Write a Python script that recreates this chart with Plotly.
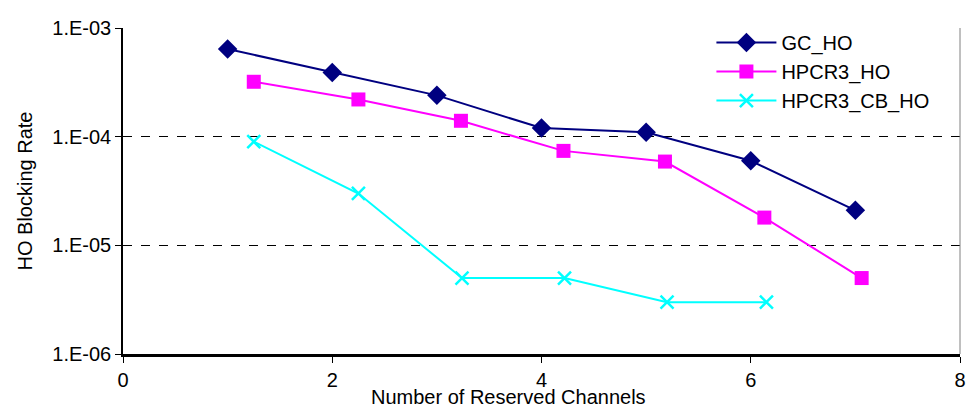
import plotly.graph_objects as go

# data
gc_x = [1, 2, 3, 4, 5, 6, 7]
gc_y = [6.4e-4, 3.9e-4, 2.4e-4, 1.2e-4, 1.1e-4, 6.0e-5, 2.1e-5]

hpcr3_x = [1.25, 2.25, 3.23, 4.21, 5.18, 6.13, 7.06]
hpcr3_y = [3.2e-4, 2.2e-4, 1.4e-4, 7.4e-5, 5.9e-5, 1.8e-5, 5.0e-6]

cb_x = [1.25, 2.25, 3.24, 4.22, 5.2, 6.15]
cb_y = [9.0e-5, 3.0e-5, 5.0e-6, 5.0e-6, 3.0e-6, 3.0e-6]

y_ticks = [1e-6, 1e-5, 1e-4, 1e-3]
y_labels = ['1.E-06', '1.E-05', '1.E-04', '1.E-03']
x_ticks = [0, 2, 4, 6, 8]

font = 'Liberation Sans, Arial, sans-serif'

fig = go.Figure()
fig.add_trace(go.Scatter(x=gc_x, y=gc_y, name='GC_HO', mode='lines+markers',
                         line=dict(color='#000080', width=2),
                         marker=dict(symbol='diamond', size=15, color='#000080')))
fig.add_trace(go.Scatter(x=hpcr3_x, y=hpcr3_y, name='HPCR3_HO', mode='lines+markers',
                         line=dict(color='#FF00FF', width=2),
                         marker=dict(symbol='square', size=14, color='#FF00FF')))
fig.add_trace(go.Scatter(x=cb_x, y=cb_y, name='HPCR3_CB_HO', mode='lines+markers',
                         line=dict(color='#00FFFF', width=2),
                         marker=dict(symbol='x-thin', size=13,
                                     line=dict(color='#00FFFF', width=2.5))))

# page body has an 8px margin, so the figure is sized to fit the window
fig.update_layout(
    width=967, height=404,
    margin=dict(l=115, r=9, t=14, b=58),
    paper_bgcolor='white', plot_bgcolor='white',
    font=dict(family=font, size=20, color='black'),
    legend=dict(x=0.703, y=1.015, xanchor='left', yanchor='top',
                bgcolor='rgba(0,0,0,0)', borderwidth=0, itemwidth=60,
                font=dict(size=20), tracegroupgap=0),
    showlegend=True,
)

fig.update_xaxes(range=[0, 8], tickvals=x_ticks, showgrid=False, zeroline=False,
                 showline=True, linecolor='black', linewidth=3,
                 ticks='outside', ticklen=6, tickcolor='black', tickwidth=1)
fig.update_yaxes(type='log', range=[-6, -3], tickvals=y_ticks, ticktext=y_labels,
                 showgrid=True, gridcolor='black', griddash='dash', gridwidth=1,
                 zeroline=False, showline=True, linecolor='black', linewidth=1.5,
                 ticks='outside', ticklen=6, tickcolor='black', tickwidth=1,
                 title=dict(text='HO Blocking Rate', standoff=14, font=dict(size=20)))

# right plot-area border
fig.add_shape(type='line', xref='paper', yref='paper', x0=1, x1=1, y0=0, y1=1,
              line=dict(color='#808080', width=1))

fig.add_annotation(text='Number of Reserved Channels', xref='paper', yref='paper',
                   x=0.46, y=-0.133, xanchor='center', yanchor='middle',
                   showarrow=False, font=dict(size=20))

fig.write_html('out.html')
